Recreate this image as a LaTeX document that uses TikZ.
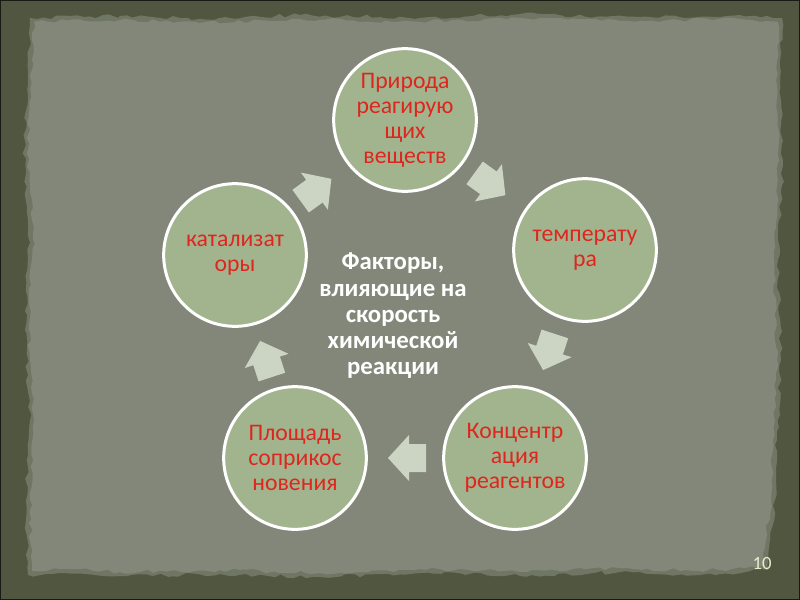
\documentclass[tikz,border=0pt]{standalone}
\usepackage{fontspec}
\setmainfont{Carlito}
\usetikzlibrary{decorations.pathmorphing}
\definecolor{outerbg}{RGB}{80,86,64}
\definecolor{paperbg}{RGB}{130,135,121}
\definecolor{paperedge}{RGB}{112,118,100}
\definecolor{circfill}{RGB}{162,180,141}
\definecolor{arrfill}{RGB}{204,213,195}
\definecolor{txtred}{RGB}{222,38,30}
\definecolor{numcol}{RGB}{236,236,200}
\tikzset{
  factor/.style={circle, fill=circfill, draw=white, line width=2.25pt,
    minimum size=107pt, inner sep=0pt, align=center, text=txtred,
    font={\fontsize{17.8}{18.75}\selectfont}},
  centertext/.style={align=center, text=white,
    font={\bfseries\fontsize{18.6}{19.7}\selectfont}},
  blockarr/.style={fill=arrfill, draw=none}
}
\newcommand\myblockarrow[3]{%
  \fill[blockarr, shift={(#1,#2)}, rotate=#3]
    (-19,-14) -- (-2,-14) -- (-2,-23) -- (19,0) -- (-2,23) -- (-2,14) -- (-19,14) -- cycle;}
\begin{document}
\begin{tikzpicture}[x=0.75pt,y=-0.75pt]
\pgfmathsetseed{42}
\useasboundingbox (0,0) rectangle (800,600);
\fill[outerbg] (0,0) rectangle (800,600);
\draw[black!70!outerbg, line width=2pt] (0,0) rectangle (800,600);
% paper
\fill[paperedge, decorate, decoration={random steps, segment length=5pt, amplitude=1.5pt}]
 (30,18) -- (120,16) -- (200,19) -- (300,15) -- (420,18) -- (520,14) -- (640,17) -- (740,15) -- (782,18)
 -- (780,80) -- (783,160) -- (778,260) -- (781,360) -- (777,440) -- (775,500) -- (770,540) -- (768,570)
 -- (700,575) -- (620,572) -- (520,576) -- (420,573) -- (320,577) -- (220,574) -- (120,576) -- (60,573) -- (28,575)
 -- (26,500) -- (30,420) -- (25,330) -- (29,240) -- (24,150) -- (28,60) -- cycle;
\fill[paperbg, decorate, decoration={random steps, segment length=5pt, amplitude=1.5pt}]
 (34,22) -- (120,20) -- (200,23) -- (300,19) -- (420,22) -- (520,18) -- (640,21) -- (740,19) -- (778,22)
 -- (776,80) -- (779,160) -- (774,260) -- (777,360) -- (773,440) -- (771,500) -- (766,540) -- (764,566)
 -- (700,571) -- (620,568) -- (520,572) -- (420,569) -- (320,573) -- (220,570) -- (120,572) -- (60,569) -- (32,571)
 -- (30,500) -- (34,420) -- (29,330) -- (33,240) -- (28,150) -- (32,60) -- cycle;
% circles
\node[factor] (top) at (405,120) {Природа\\реагирую\\щих\\веществ};
\node[factor] (right) at (585,250) {температу\\ра};
\node[factor] (br) at (515,458) {Концентр\\ация\\реагентов};
\node[factor] (bl) at (295,458) {Площадь\\соприкос\\новения};
\node[factor] (left) at (235,255) {катализат\\оры};
% center
\node[centertext] (center) at (393,316) {Факторы,\\влияющие на\\скорость\\химической\\реакции};
% arrows
\myblockarrow{490}{184}{-36}
\myblockarrow{549}{352}{-108}
\myblockarrow{407}{458}{180}
\myblockarrow{266}{359}{108}
\myblockarrow{316}{190}{36}
% page number
\node[text=numcol, font={\fontsize{14}{16}\selectfont}] (num) at (762,563) {10};
\end{tikzpicture}
\end{document}
